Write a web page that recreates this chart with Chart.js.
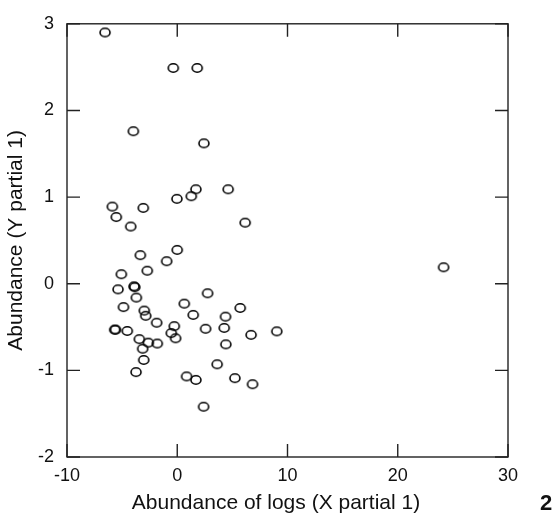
<!DOCTYPE html>
<html>
<head>
<meta charset="utf-8">
<script src="https://cdn.jsdelivr.net/npm/chart.js@4/dist/chart.umd.min.js"></script>
<style>
  html, body { margin: 0; padding: 0; background: #fff; }
  #wrap { width: 555px; height: 521px; }
</style>
</head>
<body>
<div id="wrap"><canvas id="plot"></canvas></div>
<script>
// values
const xVals = [-6.55, -0.36, 1.81, -3.98, 2.42, 1.69, 1.27, 4.62, -0.03, -5.89,
               -3.08, -5.53, -4.22, 6.16, 0.00, -3.35, -0.96, -2.72, -5.07, -5.37,
               -3.92, -3.85, -3.71, 2.75, -4.88, 0.64, 5.71, -2.99, -2.86, 1.45,
               4.38, -1.87, -5.67, -5.60, -4.53, -0.27, 2.57, 4.26, -0.54, -0.15,
               -3.44, -2.63, -1.81, 6.70, 9.03, 4.41, -3.14, -3.04, 3.62, -3.74,
               0.85, 1.69, 5.23, 6.83, 2.39, 24.16];
const yVals = [2.90, 2.49, 2.49, 1.76, 1.62, 1.09, 1.01, 1.09, 0.98, 0.89,
               0.875, 0.77, 0.66, 0.705, 0.39, 0.33, 0.26, 0.15, 0.11, -0.065,
               -0.03, -0.04, -0.16, -0.11, -0.27, -0.23, -0.28, -0.31, -0.37, -0.36,
               -0.38, -0.45, -0.53, -0.53, -0.545, -0.49, -0.52, -0.51, -0.57, -0.63,
               -0.64, -0.68, -0.69, -0.59, -0.55, -0.70, -0.75, -0.88, -0.93, -1.02,
               -1.07, -1.11, -1.09, -1.16, -1.42, 0.19];
const xTicks = [-10, 0, 10, 20, 30];
const yTicks = [-2, -1, 0, 1, 2, 3];
const xTitle = 'Abundance of logs (X partial 1)';
const yTitle = 'Abundance (Y partial 1)';
const panelTag = '2';

const FONT = '"Liberation Sans", Arial, sans-serif';

// open ellipse marker
function ellipseMarker() {
    const c = document.createElement('canvas');
    c.width = 14; c.height = 12;
    const g = c.getContext('2d');
    g.strokeStyle = '#000';
    g.lineWidth = 1.6;
    g.beginPath();
    g.ellipse(7, 6, 5, 4.2, 0, 0, Math.PI * 2);
    g.stroke();
    return c;
}
const marker = ellipseMarker();

const points = xVals.map((x, i) => ({ x: x, y: yVals[i] }));

// frame + inward ticks + x title (sits a bit left of centre) + panel tag
const framePlugin = {
    id: 'frame',
    afterDraw(chart) {
        const { ctx, chartArea: a, scales } = chart;
        const len = 13;
        ctx.save();
        ctx.strokeStyle = '#222';
        ctx.lineWidth = 1.4;
        ctx.strokeRect(a.left, a.top, a.right - a.left, a.bottom - a.top);
        ctx.beginPath();
        xTicks.forEach(v => {
            const px = scales.x.getPixelForValue(v);
            ctx.moveTo(px, a.bottom); ctx.lineTo(px, a.bottom - len);
            ctx.moveTo(px, a.top);    ctx.lineTo(px, a.top + len);
        });
        yTicks.forEach(v => {
            const py = scales.y.getPixelForValue(v);
            ctx.moveTo(a.left, py);  ctx.lineTo(a.left + len, py);
            ctx.moveTo(a.right, py); ctx.lineTo(a.right - len, py);
        });
        ctx.stroke();

        ctx.fillStyle = '#111';
        ctx.textAlign = 'center';
        ctx.textBaseline = 'middle';
        ctx.font = '21px ' + FONT;
        ctx.fillText(xTitle, 276, 503);
        ctx.font = 'bold 22px ' + FONT;
        ctx.fillText(panelTag, 546, 504);
        ctx.restore();
    }
};

new Chart(document.getElementById('plot'), {
    type: 'scatter',
    data: {
        datasets: [{
            data: points,
            pointStyle: marker,
            pointRadius: 5,
            pointHoverRadius: 5
        }]
    },
    options: {
        responsive: true,
        maintainAspectRatio: false,
        animation: false,
        events: [],
        layout: { padding: { left: 0, top: 17, right: 47, bottom: 0 } },
        plugins: { legend: { display: false }, tooltip: { enabled: false } },
        scales: {
            x: {
                type: 'linear',
                min: -10, max: 30,
                afterBuildTicks: s => { s.ticks = xTicks.map(v => ({ value: v })); },
                afterFit: s => { s.height = 64; },
                grid: { display: false, drawTicks: false },
                border: { display: false },
                ticks: { color: '#111', padding: 8, font: { family: FONT, size: 18 }, maxRotation: 0 },
                title: { display: false }
            },
            y: {
                type: 'linear',
                min: -2, max: 3,
                afterBuildTicks: s => { s.ticks = yTicks.map(v => ({ value: v })); },
                afterFit: s => { s.width = 67; },
                grid: { display: false, drawTicks: false },
                border: { display: false },
                ticks: { color: '#111', padding: 13, font: { family: FONT, size: 18 } },
                title: { display: true, text: yTitle, color: '#111', padding: { top: 4, bottom: 0 },
                         font: { family: FONT, size: 21 } }
            }
        }
    },
    plugins: [framePlugin]
});
</script>
</body>
</html>
